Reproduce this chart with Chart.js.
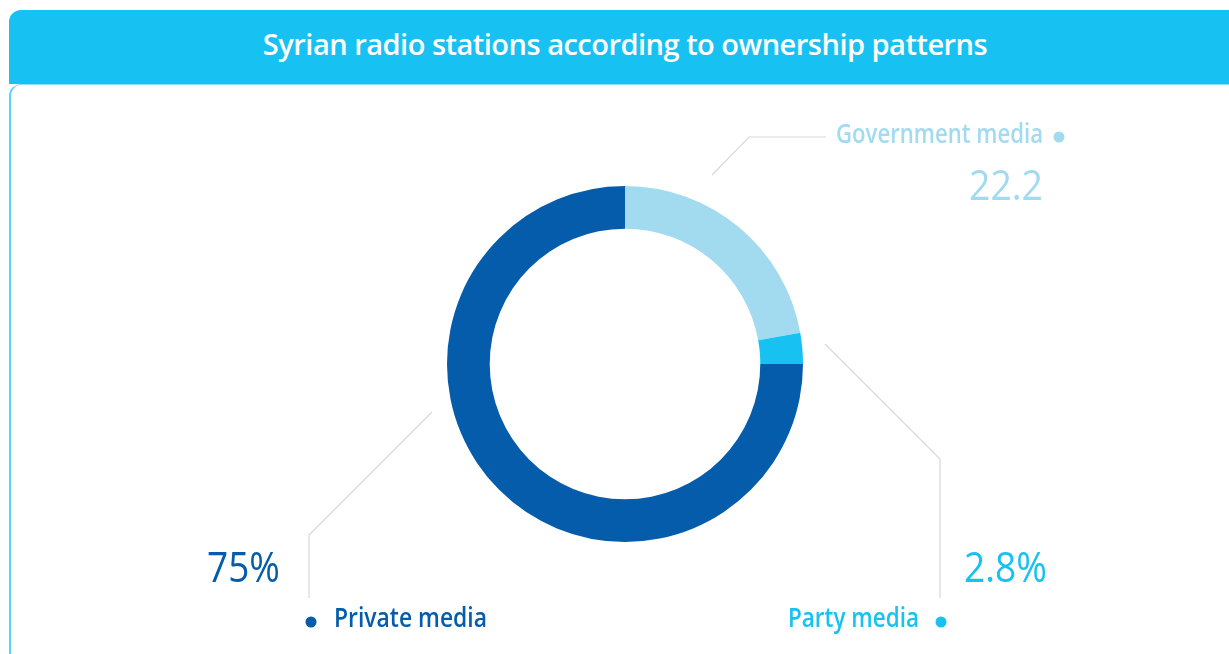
<!DOCTYPE html>
<html>
<head>
<meta charset="utf-8">
<script src="https://cdn.jsdelivr.net/npm/chart.js@4.4.1/dist/chart.umd.min.js"></script>
<style>
  html, body { margin: 0; padding: 0; background: #fff; }
  body { width: 1229px; height: 654px; position: relative; overflow: hidden; font-family: "Open Sans", sans-serif; }
  .header {
    position: absolute; left: 9px; top: 10px; width: 1240px; height: 74px;
    background: #17c2f3; border-top-left-radius: 12px;
  }
  .header h1 {
    margin: 0; position: absolute; left: 0; width: 1232px; top: 16px;
    text-align: center; color: #fff; font-weight: 600; font-size: 29px; line-height: 36px;
    letter-spacing: -0.5px;
  }
  .card {
    position: absolute; left: 9px; top: 84px; width: 1240px; height: 600px;
    background: #fff; border-left: 2px solid #5cd2f5; border-top: 1px solid #8fe0f7;
    border-top-left-radius: 12px; box-sizing: border-box;
  }
  #chart { position: absolute; left: 0; top: 0; }
</style>
</head>
<body>
<div class="header"><h1>Syrian radio stations according to ownership patterns</h1></div>
<div class="card"></div>
<canvas id="chart" width="1229" height="654"></canvas>
<script>
// ownership shares, percent
const labels = ['Government media', 'Party media', 'Private media'];
const values = [22.2, 2.8, 75];
const valueTexts = ['22.2', '2.8%', '75%'];
const colors = ['#a2daf0', '#17c2f3', '#045cab'];

// draw text squeezed to a given width (the labels use a narrow face)
function fitText(ctx, text, x, y, align, font, color, width) {
    ctx.save();
    ctx.font = font;
    ctx.fillStyle = color;
    ctx.textBaseline = 'alphabetic';
    const w = ctx.measureText(text).width;
    const sx = width / w;
    const left = align === 'right' ? x - width : x;
    ctx.translate(left, y);
    ctx.scale(sx, 1);
    ctx.textAlign = 'left';
    ctx.fillText(text, 0, 0);
    ctx.restore();
}

function dot(ctx, x, y, color) {
    ctx.beginPath();
    ctx.arc(x, y, 5.5, 0, Math.PI * 2);
    ctx.fillStyle = color;
    ctx.fill();
}

// leader lines + labels placed around the ring centre
const calloutPlugin = {
    id: 'callouts',
    afterDraw(chart) {
        const ctx = chart.ctx;
        const arc = chart.getDatasetMeta(0).data[0];
        const cx = arc.x, cy = arc.y;

        ctx.save();
        ctx.strokeStyle = '#d9d9d9';
        ctx.lineWidth = 1.2;
        const leaders = [
            [[cx + 87, cy - 189], [cx + 124, cy - 227], [cx + 201, cy - 227]],
            [[cx + 200, cy - 20], [cx + 315, cy + 95], [cx + 315, cy + 234]],
            [[cx - 193, cy + 48], [cx - 316, cy + 171], [cx - 316, cy + 234]]
        ];
        leaders.forEach(pts => {
            ctx.beginPath();
            ctx.moveTo(pts[0][0], pts[0][1]);
            for (let i = 1; i < pts.length; i++) ctx.lineTo(pts[i][0], pts[i][1]);
            ctx.stroke();
        });
        ctx.restore();

        const nameFont = '600 27px "Open Sans"';
        const numFont = '500 42px "Open Sans"';

        // government
        fitText(ctx, labels[0], cx + 418, cy - 221, 'right', nameFont, colors[0], 207);
        dot(ctx, cx + 434, cy - 227, colors[0]);
        fitText(ctx, valueTexts[0], cx + 418, cy - 164, 'right', numFont, colors[0], 74);

        // party
        fitText(ctx, valueTexts[1], cx + 339, cy + 218, 'left', numFont, colors[1], 83);
        fitText(ctx, labels[1], cx + 294, cy + 263, 'right', nameFont, colors[1], 131);
        dot(ctx, cx + 316, cy + 258, colors[1]);

        // private
        fitText(ctx, valueTexts[2], cx - 345, cy + 218, 'right', numFont, colors[2], 73);
        fitText(ctx, labels[2], cx - 291, cy + 263, 'left', nameFont, colors[2], 153);
        dot(ctx, cx - 314, cy + 258, colors[2]);
    }
};

new Chart(document.getElementById('chart'), {
    type: 'doughnut',
    data: {
        labels: labels,
        datasets: [{
            data: values,
            backgroundColor: colors,
            borderWidth: 0
        }]
    },
    options: {
        responsive: false,
        animation: false,
        cutout: '76%',
        layout: { padding: { left: 447, top: 186, right: 426, bottom: 112 } },
        plugins: {
            legend: { display: false },
            tooltip: { enabled: false }
        }
    },
    plugins: [calloutPlugin]
});
</script>
</body>
</html>
